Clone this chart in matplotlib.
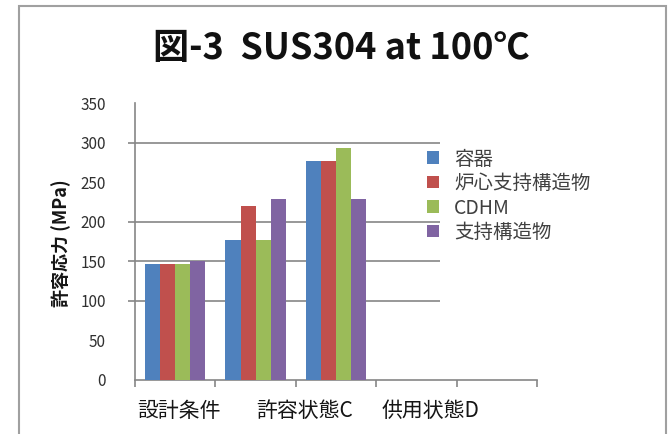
import numpy as np
import matplotlib
matplotlib.use('Agg')
import matplotlib.pyplot as plt
from matplotlib.patches import Rectangle, Patch

plt.rcParams['font.family'] = ['Noto Sans CJK JP', 'DejaVu Sans']

# カテゴリ (5枠, 後ろ2つは空)
categories = ['設計条件', '許容状態C', '供用状態D', '', '']
series = ['容器', '炉心支持構造物', 'CDHM', '支持構造物']
youki = [147, 177, 277]
roshin = [147, 220, 277]
cdhm = [147, 177, 293]
shiji = [150, 229, 229]
colors = ['#4F81BD', '#C0504D', '#9BBB59', '#8064A2']
yticks = [0, 50, 100, 150, 200, 250, 300, 350]
grid_levels = [100, 150, 200, 300]

values = [youki, roshin, cdhm, shiji]

fig = plt.figure(figsize=(6.68, 4.34), dpi=100)
ax = fig.add_axes([135 / 668, 1 - 380 / 434, 402 / 668, 277 / 434])

# 外枠
fig.add_artist(Rectangle((19 / 668, -0.05), 647 / 668, 1 - 6 / 434 + 0.05,
                         transform=fig.transFigure, fill=False,
                         edgecolor='#a0a0a0', lw=1.5))

n = len(series)
w = 0.75 / n
x = np.arange(len(youki))
for i in range(n):
    ax.bar(x - 0.375 + w * (i + 0.5), values[i], width=w, color=colors[i],
           zorder=3, linewidth=0)

ax.hlines(grid_levels, -0.59, 3.29, colors='#868686', lw=1.2, zorder=1,
          clip_on=False)

ax.set_xlim(-0.5, len(categories) - 0.5)
ax.set_ylim(0, 350)
ax.set_yticks(yticks)
ax.set_yticklabels([str(v) for v in yticks], fontsize=11, color='#303030')
ax.tick_params(axis='y', length=0, pad=21)
ax.set_xticks(np.arange(-0.5, len(categories), 1))
ax.set_xticklabels([])
ax.tick_params(axis='x', length=5, color='#868686', width=1.2)
for s in ['top', 'right']:
    ax.spines[s].set_visible(False)
for s in ['left', 'bottom']:
    ax.spines[s].set_color('#868686')
    ax.spines[s].set_linewidth(1.2)

# カテゴリ名
label_x = [179, 305, 430]
for lx, cat in zip(label_x, categories[:3]):
    fig.text(lx / 668, 1 - 411 / 434, cat, ha='center', va='center',
             fontsize=15, color='#151515')

fig.text(61 / 668, 1 - 243 / 434, '許容応力 (MPa)', rotation=90, ha='center',
         va='center', fontsize=13, fontweight='bold', color='#151515')

fig.text(341 / 668, 1 - 48 / 434, '図-3  SUS304 at 100℃', ha='center',
         va='center', fontsize=26, fontweight='bold', color='#111111')

handles = [Patch(facecolor=c, edgecolor='none') for c in colors]
fig.legend(handles, series, loc='upper left',
           bbox_to_anchor=(409 / 668, 1 - 131 / 434), frameon=False,
           fontsize=14, handlelength=0.62, handleheight=0.62,
           handletextpad=0.8, labelspacing=0.18, labelcolor='#404040')

fig.savefig('out.png', dpi=100)
